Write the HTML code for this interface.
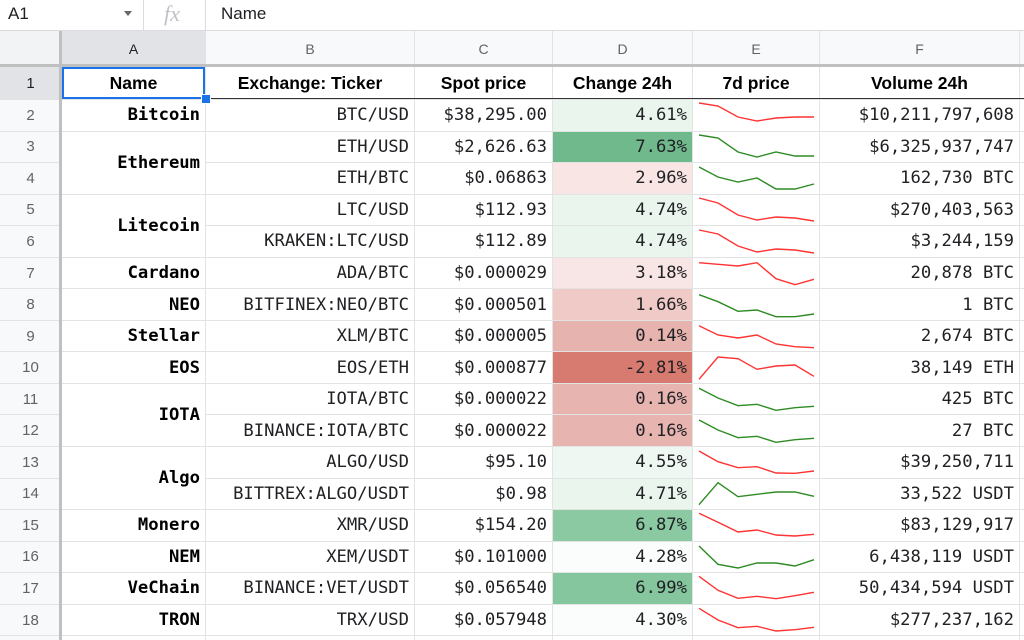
<!DOCTYPE html>
<html style="overflow:hidden;height:640px"><head><meta charset="utf-8"><style>
html,body{margin:0;width:1024px;height:640px;overflow:hidden}
body{background:#fff;font-family:"Liberation Sans",Arial,sans-serif;position:relative}
#fb{position:absolute;left:0;top:0;width:1024px;height:30px;border-bottom:1px solid #dadce0;background:#fff}
#fb span{position:absolute;top:4px;font-size:17px;color:#202124}
#wrap{position:absolute;left:0;top:0;width:1024px;height:640px;overflow:hidden}
#g{position:absolute;left:0;top:31px;display:grid;grid-template-columns:61px 143px 208px 137px 139px 126px 199px 100px;grid-template-rows:35px 32px repeat(17,30.56px) 4px;gap:1px;background:#e2e3e3;width:1120px}
#g>div{background:#fff;display:flex;align-items:center;justify-content:flex-end;padding:0 5px;box-sizing:border-box;font-family:"DejaVu Sans Mono","Liberation Mono",monospace;font-size:17.2px;color:#202124;white-space:nowrap;overflow:hidden}
#g>div.h{background:#f8f9fa;justify-content:center;font-family:"Liberation Sans",Arial,sans-serif;font-size:14px;color:#5f6368}
#g>div.rn{background:#f8f9fa;justify-content:center;font-family:"Liberation Sans",Arial,sans-serif;font-size:15px;color:#5f6368}
#g>div.hs{background:#e1e3e6;color:#202124}
#g>div.t{justify-content:center;font-family:"Liberation Sans",Arial,sans-serif;font-weight:bold;font-size:17.5px;color:#000}
#g>div.n{font-weight:bold;color:#000}
#g>div.e{padding:0}
svg{display:block}
</style></head><body><div id="wrap">
<div id="fb">
<span style="left:8px">A1</span>
<span style="left:124px;top:11px;width:0;height:0;border-left:4px solid transparent;border-right:4px solid transparent;border-top:5px solid #666"></span>
<span style="left:143px;top:0;width:1px;height:30px;background:#dadce0"></span>
<span style="left:164px;top:1px;font-family:'Liberation Serif',serif;font-style:italic;font-size:22px;color:#bdc1c6">fx</span>
<span style="left:205px;top:0;width:1px;height:30px;background:#dadce0"></span>
<span style="left:221px">Name</span>
</div>
<div id="g">
<div class="h" style="background:#f1f3f4"></div><div class="h hs">A</div><div class="h">B</div><div class="h">C</div><div class="h">D</div><div class="h">E</div><div class="h">F</div><div class="h"></div>
<div class="rn hs">1</div><div class="t" style="outline:2px solid #1a73e8;outline-offset:-2px">Name</div><div class="t">Exchange: Ticker</div><div class="t">Spot price</div><div class="t">Change 24h</div><div class="t">7d price</div><div class="t">Volume 24h</div><div></div>

<div class="rn">2</div><div class="n">Bitcoin</div><div>BTC/USD</div><div>$38,295.00</div><div style="background:#eaf5ee">4.61%</div><div class="e"><svg width="126" height="30"><polyline fill="none" stroke="#f33" stroke-width="1.4" points="6,3 25,6 45,17 64,21 83,18 102,17 121,17"/></svg></div><div>$10,211,797,608</div><div></div>

<div class="rn">3</div><div class="n" style="grid-row:span 2">Ethereum</div><div>ETH/USD</div><div>$2,626.63</div><div style="background:#6fb98c">7.63%</div><div class="e"><svg width="126" height="30"><polyline fill="none" stroke="#2e8b24" stroke-width="1.4" points="6,3 25,6 45,20 64,25 83,20 102,24 121,24"/></svg></div><div>$6,325,937,747</div><div></div>
<div class="rn">4</div><div>ETH/BTC</div><div>$0.06863</div><div style="background:#f8e5e4">2.96%</div><div class="e"><svg width="126" height="30"><polyline fill="none" stroke="#2e8b24" stroke-width="1.4" points="6,4 25,14 45,19 64,15 83,26 102,26 121,21"/></svg></div><div>162,730 BTC</div><div></div>

<div class="rn">5</div><div class="n" style="grid-row:span 2">Litecoin</div><div>LTC/USD</div><div>$112.93</div><div style="background:#e9f5ed">4.74%</div><div class="e"><svg width="126" height="30"><polyline fill="none" stroke="#f33" stroke-width="1.4" points="6,3 25,8 45,20 64,25 83,22 102,23 121,26"/></svg></div><div>$270,403,563</div><div></div>
<div class="rn">6</div><div>KRAKEN:LTC/USD</div><div>$112.89</div><div style="background:#e9f5ed">4.74%</div><div class="e"><svg width="126" height="30"><polyline fill="none" stroke="#f33" stroke-width="1.4" points="6,4 25,8 45,20 64,26 83,23 102,24 121,27"/></svg></div><div>$3,244,159</div><div></div>

<div class="rn">7</div><div class="n">Cardano</div><div>ADA/BTC</div><div>$0.000029</div><div style="background:#f7e6e5">3.18%</div><div class="e"><svg width="126" height="30"><polyline fill="none" stroke="#f33" stroke-width="1.4" points="6,4.7 25,6.3 45,8 64,4.7 83,20.7 102,26.7 121,21.3"/></svg></div><div>20,878 BTC</div><div></div>
<div class="rn">8</div><div class="n">NEO</div><div>BITFINEX:NEO/BTC</div><div>$0.000501</div><div style="background:#efcac7">1.66%</div><div class="e"><svg width="126" height="30"><polyline fill="none" stroke="#2e8b24" stroke-width="1.4" points="6,4.7 25,11.7 45,21.3 64,20 83,26.7 102,26.7 121,24"/></svg></div><div>1 BTC</div><div></div>
<div class="rn">9</div><div class="n">Stellar</div><div>XLM/BTC</div><div>$0.000005</div><div style="background:#e7b3ae">0.14%</div><div class="e"><svg width="126" height="30"><polyline fill="none" stroke="#f33" stroke-width="1.4" points="6,4.7 25,14 45,17 64,14 83,23 102,25.7 121,26.7"/></svg></div><div>2,674 BTC</div><div></div>
<div class="rn">10</div><div class="n">EOS</div><div>EOS/ETH</div><div>$0.000877</div><div style="background:#d77b70">-2.81%</div><div class="e"><svg width="126" height="30"><polyline fill="none" stroke="#f33" stroke-width="1.4" points="6,26.3 25,4 45,5.7 64,16.3 83,13 102,12 121,23.3"/></svg></div><div>38,149 ETH</div><div></div>

<div class="rn">11</div><div class="n" style="grid-row:span 2">IOTA</div><div>IOTA/BTC</div><div>$0.000022</div><div style="background:#e7b4b0">0.16%</div><div class="e"><svg width="126" height="30"><polyline fill="none" stroke="#2e8b24" stroke-width="1.4" points="6,4.3 25,14 45,21.7 64,20.3 83,26.3 102,23.7 121,22.3"/></svg></div><div>425 BTC</div><div></div>
<div class="rn">12</div><div>BINANCE:IOTA/BTC</div><div>$0.000022</div><div style="background:#e7b4b0">0.16%</div><div class="e"><svg width="126" height="30"><polyline fill="none" stroke="#2e8b24" stroke-width="1.4" points="6,4 25,14 45,21.7 64,20.3 83,26.3 102,23.7 121,22.3"/></svg></div><div>27 BTC</div><div></div>

<div class="rn">13</div><div class="n" style="grid-row:span 2">Algo</div><div>ALGO/USD</div><div>$95.10</div><div style="background:#eef7f1">4.55%</div><div class="e"><svg width="126" height="30"><polyline fill="none" stroke="#f33" stroke-width="1.4" points="6,4 25,14.7 45,20.7 64,19.7 83,26 102,26.3 121,24"/></svg></div><div>$39,250,711</div><div></div>
<div class="rn">14</div><div>BITTREX:ALGO/USDT</div><div>$0.98</div><div style="background:#eaf5ee">4.71%</div><div class="e"><svg width="126" height="30"><polyline fill="none" stroke="#2e8b24" stroke-width="1.4" points="6,25.7 25,3.7 45,17.7 64,15.3 83,13 102,13 121,17.3"/></svg></div><div>33,522 USDT</div><div></div>

<div class="rn">15</div><div class="n">Monero</div><div>XMR/USD</div><div>$154.20</div><div style="background:#8ac9a2">6.87%</div><div class="e"><svg width="126" height="30"><polyline fill="none" stroke="#f33" stroke-width="1.4" points="6,3.3 25,12.3 45,22 64,20 83,25 102,26 121,24.3"/></svg></div><div>$83,129,917</div><div></div>
<div class="rn">16</div><div class="n">NEM</div><div>XEM/USDT</div><div>$0.101000</div><div style="background:#fbfdfc">4.28%</div><div class="e"><svg width="126" height="30"><polyline fill="none" stroke="#2e8b24" stroke-width="1.4" points="6,4 25,22.3 45,26 64,21 83,21 102,24 121,17.7"/></svg></div><div>6,438,119 USDT</div><div></div>
<div class="rn">17</div><div class="n">VeChain</div><div>BINANCE:VET/USDT</div><div>$0.056540</div><div style="background:#86c69e">6.99%</div><div class="e"><svg width="126" height="30"><polyline fill="none" stroke="#f33" stroke-width="1.4" points="6,3.3 25,17.3 45,25.3 64,23.3 83,25.7 102,22.7 121,19.3"/></svg></div><div>50,434,594 USDT</div><div></div>
<div class="rn">18</div><div class="n">TRON</div><div>TRX/USD</div><div>$0.057948</div><div style="background:#fafdfb">4.30%</div><div class="e"><svg width="126" height="30"><polyline fill="none" stroke="#f33" stroke-width="1.4" points="6,3.3 25,15 45,22.7 64,21.3 83,26 102,24.7 121,22.3"/></svg></div><div>$277,237,162</div><div></div>
<div class="rn"></div><div></div><div></div><div></div><div></div><div></div><div></div><div></div>
</div>
<div style="position:absolute;left:59px;top:31px;width:3px;height:609px;background:#c0c0c0"></div>
<div style="position:absolute;left:0;top:64px;width:1024px;height:3px;background:#c0c0c0"></div>
<div style="position:absolute;left:206px;top:98px;width:818px;height:1px;background:#333"></div>
<div style="position:absolute;left:201px;top:94px;width:8px;height:8px;background:#1a73e8;border:1px solid #fff"></div>
</div></body></html>
